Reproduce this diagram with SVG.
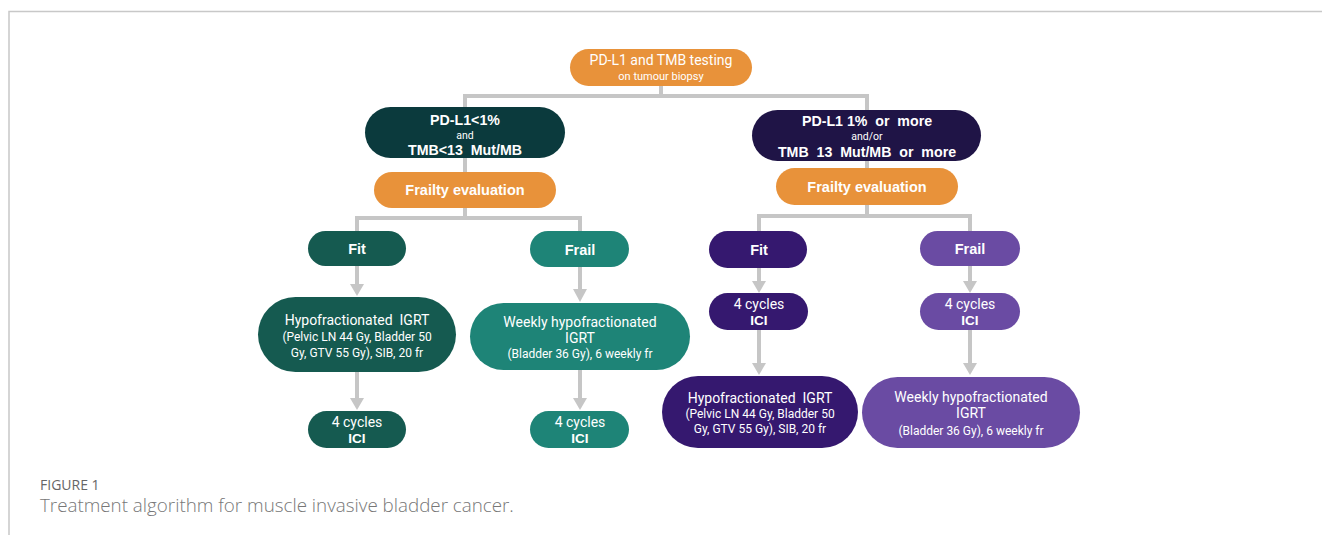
<svg xmlns="http://www.w3.org/2000/svg" width="1322" height="535" viewBox="0 0 1322 535">
<defs>
<style>
.c{fill:none;stroke:#c6c6c6;stroke-width:4}
.a{fill:none;stroke:#c6c6c6;stroke-width:4}
.h{fill:#c6c6c6}
.t{font-family:Roboto,"Liberation Sans",sans-serif;fill:#fff;text-anchor:middle;white-space:pre}
.b{font-family:"Liberation Sans",Arial,sans-serif;font-weight:bold;fill:#fff;text-anchor:middle;white-space:pre}
.or{fill:#e8923a}
.dt{fill:#0b3a3d}
.ft{fill:#155a50}
.fr{fill:#1e8477}
.dp{fill:#1f1446}
.fp{fill:#35186f}
.lp{fill:#6a4ba3}
</style>
</defs>
<rect width="1322" height="535" fill="#fff"/>
<path d="M9,535 L9,11.5 L1322,11.5" fill="none" stroke="#c8c8c8" stroke-width="1.5"/>

<g id="connectors">
<path class="c" d="M661,86 V96 M465,96 H869 M465,94 V172 M867,94 V168"/>
<path class="c" d="M465,208 V218 M357,218 H580 M357,216 V231 M580,216 V231"/>
<path class="c" d="M867,205 V216 M759,216 H970 M759,214 V231 M970,214 V231"/>
<path class="a" d="M357,266 V284"/><path class="h" d="M350,284 L364,284 L357,296 Z"/>
<path class="a" d="M357,372 V398"/><path class="h" d="M350,398 L364,398 L357,410 Z"/>
<path class="a" d="M580,267 V289"/><path class="h" d="M573,289 L587,289 L580,302 Z"/>
<path class="a" d="M580,370 V398"/><path class="h" d="M573,398 L587,398 L580,410 Z"/>
<path class="a" d="M759,268 V281"/><path class="h" d="M752,281 L766,281 L759,293 Z"/>
<path class="a" d="M970,266 V281"/><path class="h" d="M963,281 L977,281 L970,293 Z"/>
<path class="a" d="M759,330 V363"/><path class="h" d="M752,363 L766,363 L759,375 Z"/>
<path class="a" d="M970,330 V363"/><path class="h" d="M963,363 L977,363 L970,375 Z"/>
</g>

<g id="top">
<rect class="or" x="570" y="49" width="182" height="37" rx="18.5"/>
<text class="t" x="661" y="65" font-size="14">PD-L1 and TMB testing</text>
<text class="t" x="661" y="80" font-size="11">on tumour biopsy</text>
</g>

<g id="neg">
<rect class="dt" x="365" y="107" width="200" height="51" rx="25.5"/>
<text class="b" x="465" y="125" font-size="14.2">PD-L1&lt;1%</text>
<text class="t" x="465" y="138.5" font-size="10.5">and</text>
<text class="b" x="465" y="154.5" font-size="14.2" xml:space="preserve">TMB&lt;13  Mut/MB</text>
</g>

<g id="pos">
<rect class="dp" x="752" y="110" width="229" height="51" rx="25.5"/>
<text class="b" x="867" y="126" font-size="14.2" xml:space="preserve">PD-L1 1%  or  more</text>
<text class="t" x="867" y="140" font-size="10.5">and/or</text>
<text class="b" x="867" y="157" font-size="14.2" xml:space="preserve">TMB  13  Mut/MB  or  more</text>
</g>

<g id="frailty-left">
<rect class="or" x="374" y="172" width="182" height="36" rx="18"/>
<text class="b" x="465" y="195" font-size="14.5">Frailty evaluation</text>
</g>
<g id="frailty-right">
<rect class="or" x="776" y="168" width="182" height="37" rx="18.5"/>
<text class="b" x="867" y="192" font-size="14.5">Frailty evaluation</text>
</g>

<g id="fit-left">
<rect class="ft" x="308" y="231" width="98" height="35" rx="17.5"/>
<text class="b" x="357" y="253.5" font-size="14.5">Fit</text>
</g>
<g id="frail-left">
<rect class="fr" x="530" y="231" width="99" height="36" rx="18"/>
<text class="b" x="580" y="254.5" font-size="14.5">Frail</text>
</g>
<g id="hypo-left">
<rect class="ft" x="258" y="297" width="198" height="75" rx="37.5"/>
<text class="t" x="357" y="325" font-size="14" xml:space="preserve">Hypofractionated  IGRT</text>
<text class="t" x="357" y="341" font-size="12">(Pelvic LN 44 Gy, Bladder 50</text>
<text class="t" x="357" y="357" font-size="12">Gy, GTV 55 Gy), SIB, 20 fr</text>
</g>
<g id="weekly-left">
<rect class="fr" x="470" y="303" width="220" height="67" rx="33.5"/>
<text class="t" x="580" y="327" font-size="14">Weekly hypofractionated</text>
<text class="t" x="580" y="343" font-size="14">IGRT</text>
<text class="t" x="580" y="358" font-size="12">(Bladder 36 Gy), 6 weekly fr</text>
</g>
<g id="ici-fit-left">
<rect class="ft" x="308" y="411" width="98" height="37" rx="18.5"/>
<text class="t" x="357" y="427" font-size="14">4 cycles</text>
<text class="b" x="357" y="442.5" font-size="13.5">ICI</text>
</g>
<g id="ici-frail-left">
<rect class="fr" x="530" y="411" width="99" height="37" rx="18.5"/>
<text class="t" x="580" y="427" font-size="14">4 cycles</text>
<text class="b" x="580" y="442.5" font-size="13.5">ICI</text>
</g>

<g id="fit-right">
<rect class="fp" x="709" y="231" width="98" height="37" rx="18.5"/>
<text class="b" x="759" y="254.5" font-size="14.5">Fit</text>
</g>
<g id="frail-right">
<rect class="lp" x="920" y="231" width="100" height="35" rx="17.5"/>
<text class="b" x="970" y="253.5" font-size="14.5">Frail</text>
</g>
<g id="ici-fit-right">
<rect class="fp" x="709" y="293" width="99" height="37" rx="18.5"/>
<text class="t" x="759" y="309" font-size="14">4 cycles</text>
<text class="b" x="759" y="324.5" font-size="13.5">ICI</text>
</g>
<g id="ici-frail-right">
<rect class="lp" x="920" y="293" width="100" height="37" rx="18.5"/>
<text class="t" x="970" y="309" font-size="14">4 cycles</text>
<text class="b" x="970" y="324.5" font-size="13.5">ICI</text>
</g>
<g id="hypo-right">
<rect class="fp" x="662" y="376" width="196" height="72" rx="36"/>
<text class="t" x="760" y="403" font-size="14" xml:space="preserve">Hypofractionated  IGRT</text>
<text class="t" x="760" y="418" font-size="12">(Pelvic LN 44 Gy, Bladder 50</text>
<text class="t" x="760" y="433" font-size="12">Gy, GTV 55 Gy), SIB, 20 fr</text>
</g>
<g id="weekly-right">
<rect class="lp" x="862" y="377" width="218" height="71" rx="35.5"/>
<text class="t" x="971" y="402" font-size="14">Weekly hypofractionated</text>
<text class="t" x="971" y="418" font-size="14">IGRT</text>
<text class="t" x="971" y="435" font-size="12">(Bladder 36 Gy), 6 weekly fr</text>
</g>

<g id="caption">
<text x="40" y="490" font-family="'Open Sans','Liberation Sans',sans-serif" font-size="14" fill="#666">FIGURE 1</text>
<text x="40" y="512" font-family="'Open Sans','Liberation Sans',sans-serif" font-size="18.8" font-weight="300" fill="#777">Treatment algorithm for muscle invasive bladder cancer.</text>
</g>
</svg>
